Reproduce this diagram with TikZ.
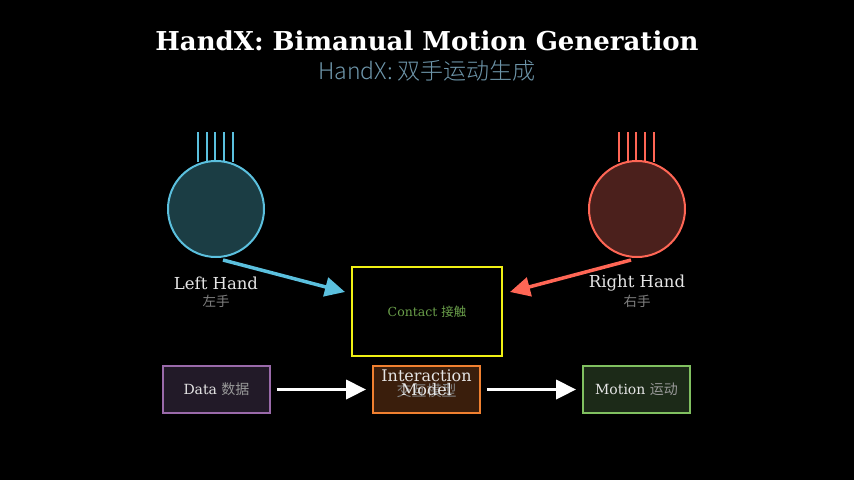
\documentclass[tikz,border=0pt]{standalone}
\usepackage{fontspec}
\setmainfont{DejaVu Serif}
\newfontfamily\cjk{Noto Sans CJK SC}
\newfontfamily\cjkl{Noto Sans CJK SC Light}
\usetikzlibrary{arrows.meta}
\definecolor{lcy}{HTML}{5BC0DE}
\definecolor{lred}{HTML}{FF6655}
\definecolor{grn}{HTML}{6A9F4A}
\begin{document}
\begin{tikzpicture}[x=1pt,y=-1pt,
  hand/.style={circle,minimum size=96pt,line width=2pt,inner sep=0},
  box/.style={draw,line width=1.8pt,minimum width=107pt,minimum height=47pt,inner sep=0,font=\fontsize{14}{16}\selectfont},
  big/.style={line width=3.5pt,-{Triangle[length=20pt,width=19pt]}},
  wa/.style={white,line width=3.5pt,-{Triangle[length=20pt,width=19pt]}},
  lab/.style={font=\fontsize{16.5}{18}\selectfont,text=white!90!black},
  sub/.style={font=\cjk\fontsize{13.5}{15}\selectfont,text=gray}]
\fill[black] (0,0) rectangle (854,480);
\node[font=\bfseries\fontsize{26}{30}\selectfont,white] (t) at (427,41) {HandX: Bimanual Motion Generation};
\node[font=\cjkl\fontsize{23}{26}\selectfont,text={rgb,255:red,110;green,150;blue,170}] (st) at (427,71) {HandX: 双手运动生成};
\node[hand,draw=lcy,fill={rgb,255:red,27;green,61;blue,68}] (lh) at (216,209) {};
\node[hand,draw=lred,fill={rgb,255:red,75;green,32;blue,28}] (rh) at (637,209) {};
\foreach \i/\x in {1/198,2/206.5,3/215,4/224,5/233}{
  \coordinate (lf\i a) at (\x,132); \coordinate (lf\i b) at (\x,162);
  \draw[lcy,line width=2pt] (lf\i a) -- (lf\i b);
  \coordinate (rf\i a) at (\x+421,132); \coordinate (rf\i b) at (\x+421,162);
  \draw[lred,line width=2pt] (rf\i a) -- (rf\i b);}
\node[lab] (lt) at (216,283) {Left Hand};
\node[sub] (ls) at (216,301) {左手};
\node[lab] (rt) at (637,283) {Right Hand};
\node[sub] (rs) at (637,301) {右手};
\node[draw={rgb,255:red,240;green,240;blue,20},line width=1.8pt,fill=black,minimum width=150pt,minimum height=89pt,inner sep=0] (c) at (427,311.5) {};
\node[text=grn,font=\fontsize{12.5}{14}\selectfont] (ct) at (427,312) {Contact {\cjk 接触}};
\coordinate (la) at (223,260); \coordinate (lae) at (345,292);
\coordinate (ra) at (631,260); \coordinate (rae) at (510,292);
\draw[big,lcy] (la) -- (lae);
\draw[big,lred] (ra) -- (rae);
\node[box,draw={rgb,255:red,154;green,106;blue,170},fill={rgb,255:red,34;green,26;blue,40},text=white!90!black] (d) at (216.5,389.5) {Data {\cjk\color{gray!80!white}数据}};
\node[box,draw={rgb,255:red,240;green,128;blue,48},fill={rgb,255:red,58;green,30;blue,12}] (m) at (426.5,389.5) {};
\node[font=\cjk\fontsize{15}{17}\selectfont,text=gray] (mz) at (426.5,391) {交互模型};
\node[align=center,text=white!90!black,font=\fontsize{16}{14}\selectfont] (mt) at (426.5,383) {Interaction\\Model};
\node[box,draw={rgb,255:red,128;green,192;blue,96},fill={rgb,255:red,28;green,42;blue,24},text=white!90!black] (mo) at (636.5,389.5) {Motion {\cjk\color{gray!80!white}运动}};
\draw[wa] (d.east)++(6,0) -- ([xshift=-6pt]m.west);
\draw[wa] (m.east)++(6,0) -- ([xshift=-6pt]mo.west);
\end{tikzpicture}
\end{document}
